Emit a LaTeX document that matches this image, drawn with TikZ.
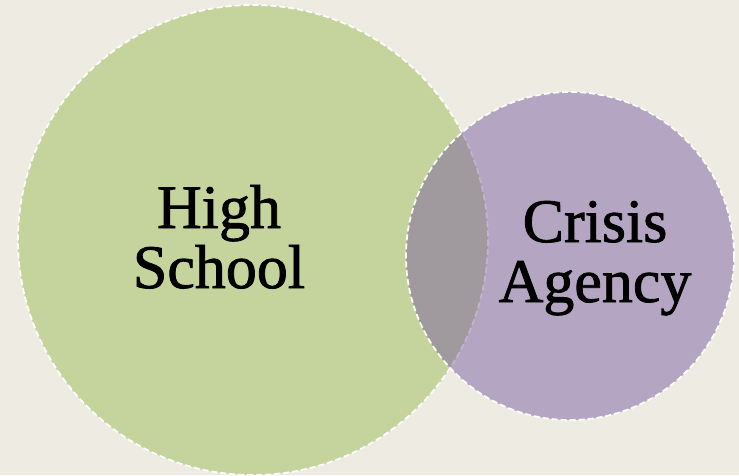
\documentclass[tikz,border=0pt]{standalone}
\usepackage{fontspec}
\setmainfont{Liberation Serif}[FakeBold=1.3]
\definecolor{bgc}{HTML}{EEEBE2}
\definecolor{greenc}{HTML}{C5D39C}
\definecolor{purplec}{HTML}{B4A6C2}
\definecolor{overlapc}{HTML}{A09A9F}
\definecolor{faintc}{HTML}{C2B3D0}
\tikzset{
  edgeline/.style={draw=white, line width=1.7pt, dash pattern=on 6pt off 3pt},
  faintline/.style={draw=faintc, line width=1.7pt, dash pattern=on 6pt off 3pt},
  label/.style={align=center, text=black, font=\fontsize{62}{60}\selectfont, inner sep=0pt}
}
\begin{document}
\begin{tikzpicture}[x=1pt,y=-1pt]
\fill[bgc] (0,0) rectangle (739,475);
\useasboundingbox (0,0) rectangle (739,475);
\coordinate (gc) at (253,240);
\coordinate (pc) at (570,256);
\fill[greenc] (gc) circle[radius=235];
\path[edgeline] (gc) circle[radius=235];
\fill[purplec] (pc) circle[radius=164];
\begin{scope}
  \clip (gc) circle[radius=235];
  \fill[overlapc] (pc) circle[radius=164];
\end{scope}
\begin{scope}
  \clip (pc) circle[radius=164];
  \path[faintline] (gc) circle[radius=235];
\end{scope}
\path[edgeline] (pc) circle[radius=164];
\node[label, anchor=base] (hs) at (219,288) {High\\School};
\node[label, anchor=base] (ca) at (595,302) {Crisis\\Agency};
\end{tikzpicture}
\end{document}
